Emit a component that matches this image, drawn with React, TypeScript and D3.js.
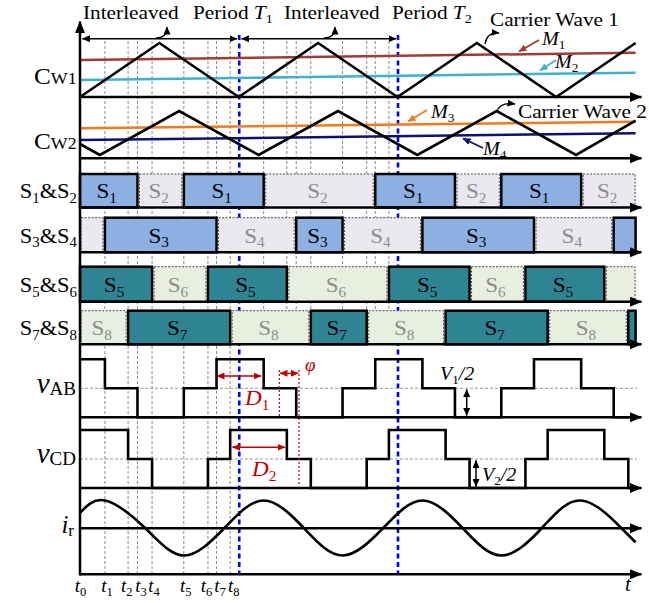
import React from "react";
import * as d3 from "d3";

// ---------------- data ----------------
const tMarks = [0, 15.7, 30.3, 36.2, 45.4, 65.4, 80.6, 86.0, 94.6]; // t0..t8 (period = 100)
const tNames = ["0", "1", "2", "3", "4", "5", "6", "7", "8"];
const periodEnds = [100, 200]; // T1, T2
const periodNames = ["1", "2"];
const secondPeriodMarks = [115.7, 130.3, 136.2, 145.4, 165.4, 180.6, 186.0, 194.6];

const carrier1: [number, number][] = [[0, 0], [50, 1], [100, 0], [150, 1], [200, 0], [250, 1], [300, 0], [350, 1]];
const carrier2: [number, number][] = [[0, 0.25], [12.5, 0], [62.5, 1], [112.5, 0], [162.5, 1], [212.5, 0], [262.5, 1], [312.5, 0], [350, 0.78]];
const m1: [number, number][] = [[0, 0.685], [350, 0.82]];
const m2: [number, number][] = [[0, 0.315], [350, 0.45]];
const m3: [number, number][] = [[0, 0.607], [350, 0.757]];
const m4: [number, number][] = [[0, 0.34], [350, 0.493]];

const s1On: [number, number][] = [[0, 36.2], [65.4, 115.7], [186.0, 236.2], [265.4, 315.7]];
const s3On: [number, number][] = [[15.7, 86.0], [136.2, 165.4], [215.7, 286.0], [336.2, 350]];
const s5On: [number, number][] = [[0, 45.4], [80.6, 130.3], [194.6, 245.4], [280.6, 330.3]];
const s7On: [number, number][] = [[30.3, 94.6], [145.4, 180.6], [230.3, 294.6], [345.4, 350]];

const vAB: [number, number][] = [[0, 2], [15.7, 1], [36.2, 0], [65.4, 1], [86.0, 2], [115.7, 1], [136.2, 0], [165.4, 1], [186.0, 2], [215.7, 1], [236.2, 0], [265.4, 1], [286.0, 2], [315.7, 1], [336.2, 0], [350, 0]];
const vCD: [number, number][] = [[0, 2], [30.3, 1], [45.4, 0], [80.6, 1], [94.6, 2], [130.3, 1], [145.4, 0], [180.6, 1], [194.6, 2], [230.3, 1], [245.4, 0], [280.6, 1], [294.6, 2], [330.3, 1], [345.4, 0], [350, 0]];
const iR: [number, number][] = [[0, 0.55], [15.7, 1], [41, 0], [65.4, -1], [91, 0], [115.7, 1], [141, 0], [165.4, -1], [191, 0], [215.7, 1], [241, 0], [265.4, -1], [291, 0], [315.7, 1], [341, 0], [350, -0.52]];

// ---------------- layout ----------------
const W = 649, H = 603;
const X0 = 80, XEND = 641.5;
const FONT = "'Liberation Serif', 'Times New Roman', serif";
const x = d3.scaleLinear().domain([0, 350]).range([80, 635.6]);
const yC1 = d3.scaleLinear().domain([0, 1]).range([97, 43]);
const yC2 = d3.scaleLinear().domain([0, 1]).range([155, 111]);
const yAB = d3.scaleLinear().domain([0, 2]).range([417.3, 359.3]);
const yCD = d3.scaleLinear().domain([0, 2]).range([488, 430]);
const yIR = d3.scaleLinear().domain([-1, 1]).range([555.5, 500.5]);
const axisYs = [97, 158.3, 207.5, 252.3, 301.7, 344.3, 417.3, 488, 528.3, 574.3];
const tLabelShift = [0.5, 2, -1.3, 3.5, 2, 2, -1.5, 3.5, 3.5];

const rowBands = [
  { top: 174, bottom: 207.5 },
  { top: 217.7, bottom: 252.3 },
  { top: 266.7, bottom: 301.7 },
  { top: 310.7, bottom: 344.3 },
];
const gateRows = [
  { on: s1On, onSub: "1", offSub: "2", onFill: "#8db0e2", offFill: "#ebe8f0" },
  { on: s3On, onSub: "3", offSub: "4", onFill: "#8db0e2", offFill: "#ebe8f0" },
  { on: s5On, onSub: "5", offSub: "6", onFill: "#2f8494", offFill: "#e9efdf" },
  { on: s7On, onSub: "7", offSub: "8", onFill: "#2f8494", offFill: "#e9efdf" },
];

type Part = { t: string; sub?: boolean; it?: boolean; size?: number; dy?: number };
function Rich({ x: px, y: py, parts, size, anchor = "start", sx = 1.12, fill = "#000" }:
  { x: number; y: number; parts: Part[]; size: number; anchor?: string; sx?: number; fill?: string }) {
  let cur = 0;
  return (
    <g transform={`translate(${px},${py}) scale(${sx},1)`}>
      <text textAnchor={anchor as any} fontFamily={FONT} fontSize={size} fill={fill}>
        {parts.map((p, i) => {
          const target = p.dy !== undefined ? p.dy : p.sub ? size * 0.22 : 0;
          const d = target - cur;
          cur = target;
          const fs = p.size ?? (p.sub ? size * 0.66 : size);
          return (
            <tspan key={i} dy={d} fontSize={fs} fontStyle={p.it ? "italic" : "normal"}>{p.t}</tspan>
          );
        })}
      </text>
    </g>
  );
}

function Arrow({ x1, y1, x2, y2, color = "#000", w = 1.5, both = false, head = "hs" }:
  { x1: number; y1: number; x2: number; y2: number; color?: string; w?: number; both?: boolean; head?: string }) {
  return <line x1={x1} y1={y1} x2={x2} y2={y2} stroke={color} strokeWidth={w}
    markerEnd={`url(#${head})`} markerStart={both ? `url(#${head})` : undefined} />;
}

export default function App() {
  const c1Path = d3.line<[number, number]>().x(d => x(d[0])).y(d => yC1(d[1]))(carrier1)!;
  const c2Path = d3.line<[number, number]>().x(d => x(d[0])).y(d => yC2(d[1]))(carrier2)!;
  const mLine1 = (d: [number, number][]) => d3.line<[number, number]>().x(p => x(p[0])).y(p => yC1(p[1]))(d)!;
  const mLine2 = (d: [number, number][]) => d3.line<[number, number]>().x(p => x(p[0])).y(p => yC2(p[1]))(d)!;
  const abPath = d3.line<[number, number]>().curve(d3.curveStepAfter).x(d => x(d[0])).y(d => yAB(d[1]))(vAB)!;
  const cdPath = d3.line<[number, number]>().curve(d3.curveStepAfter).x(d => x(d[0])).y(d => yCD(d[1]))(vCD)!;
  const irPath = d3.line<[number, number]>().curve(d3.curveNatural).x(d => x(d[0])).y(d => yIR(d[1]))(iR)!;

  const markers = [
    { id: "ax", c: "#000", l: 12, h: 10 },
    { id: "hs", c: "#000", l: 8, h: 7 },
    { id: "red", c: "#c00000", l: 8, h: 7 },
    { id: "brown", c: "#a03c36", l: 8, h: 7 },
    { id: "cyan", c: "#3fb1cf", l: 8, h: 7 },
    { id: "orange", c: "#ee7d1f", l: 8, h: 7 },
    { id: "navy", c: "#101070", l: 8, h: 7 },
  ];

  return (
    <svg width={W} height={H} style={{ position: "absolute", left: 0, top: 0, background: "#fff" }}>
      <defs>
        {markers.map(m => (
          <marker key={m.id} id={m.id} viewBox={`0 0 ${m.l} ${m.h}`} refX={m.l - 0.5} refY={m.h / 2}
            markerWidth={m.l} markerHeight={m.h} markerUnits="userSpaceOnUse" orient="auto-start-reverse">
            <path d={`M0,0 L${m.l},${m.h / 2} L0,${m.h} z`} fill={m.c} />
          </marker>
        ))}
      </defs>
      <rect x={0} y={0} width={W} height={H} fill="#fff" />

      {/* grey dashed time marks */}
      {tMarks.slice(1).map((t, i) => (
        <line key={"tm" + i} x1={x(t)} x2={x(t)} y1={41} y2={574} stroke="#8a8a8a" strokeWidth={1} strokeDasharray="3,2" />
      ))}
      {secondPeriodMarks.map((t, i) => (
        <line key={"tm2" + i} x1={x(t)} x2={x(t)} y1={41} y2={344} stroke="#8a8a8a" strokeWidth={1} strokeDasharray="3,2" />
      ))}
      {/* blue period lines */}
      {periodEnds.map((t, i) => (
        <line key={"pb" + i} x1={x(t) + 0.5} x2={x(t) + 0.5} y1={35} y2={575} stroke="#0000ff" strokeWidth={2.6} strokeDasharray="5,3.5" />
      ))}

      {/* gate blocks */}
      {gateRows.map((row, ri) => {
        const band = rowBands[ri];
        const cy = (band.top + band.bottom) / 2;
        const off: [number, number][] = [];
        let prev = 0;
        row.on.forEach(([a, b]) => { if (a > prev) off.push([prev, a]); prev = b; });
        if (prev < 350) off.push([prev, 350]);
        return (
          <g key={"row" + ri}>
            {off.map(([a, b], i) => {
              const xa = x(a) + (a > 0 ? 2 : 1.2);
              const xb = x(b) - (b < 350 ? 2 : 0.5);
              return (
                <g key={"off" + i}>
                  <rect x={xa} y={band.top} width={xb - xa} height={band.bottom - band.top}
                    fill={row.offFill} stroke="#4a4a4a" strokeWidth={1} strokeDasharray="2,1.5" />
                  {xb - xa > 35 && (
                    <Rich x={(xa + xb) / 2 - 2} y={cy + 7.5} anchor="middle" size={22} fill="#8c8c8c"
                      parts={[{ t: "S" }, { t: row.offSub, sub: true }]} sx={1.05} />
                  )}
                </g>
              );
            })}
            {row.on.map(([a, b], i) => {
              const xa = x(a);
              const xb = x(b);
              return (
                <g key={"on" + i}>
                  <rect x={xa} y={band.top} width={xb - xa} height={band.bottom - band.top}
                    fill={row.onFill} stroke="#000" strokeWidth={2.5} />
                  {xb - xa > 35 && (
                    <Rich x={(xa + xb) / 2 - 2} y={cy + 7.5} anchor="middle" size={22}
                      parts={[{ t: "S" }, { t: row.onSub, sub: true }]} sx={1.05} />
                  )}
                </g>
              );
            })}
          </g>
        );
      })}

      {/* modulation lines and carriers */}
      <path d={mLine1(m1)} stroke="#a03c36" strokeWidth={2.5} fill="none" />
      <path d={mLine1(m2)} stroke="#3fb1cf" strokeWidth={2.5} fill="none" />
      <path d={mLine2(m3)} stroke="#ee7d1f" strokeWidth={2.5} fill="none" />
      <path d={mLine2(m4)} stroke="#101070" strokeWidth={2.5} fill="none" />
      <path d={c1Path} stroke="#000" strokeWidth={2.6} fill="none" />
      <path d={c2Path} stroke="#000" strokeWidth={2.6} fill="none" />

      {/* dashed mid levels */}
      <line x1={X0} x2={637} y1={yAB(1)} y2={yAB(1)} stroke="#9a9a9a" strokeWidth={1} strokeDasharray="3,2" />
      <line x1={X0} x2={637} y1={yCD(1)} y2={yCD(1)} stroke="#9a9a9a" strokeWidth={1} strokeDasharray="3,2" />

      {/* axes */}
      {axisYs.map((yy, i) => (
        <line key={"ax" + i} x1={X0} x2={XEND} y1={yy} y2={yy} stroke="#000" strokeWidth={2.5} markerEnd="url(#ax)" />
      ))}
      <line x1={X0} x2={X0} y1={575.5} y2={21.5} stroke="#000" strokeWidth={2.5} markerEnd="url(#ax)" />

      {/* waveforms */}
      <path d={abPath} stroke="#000" strokeWidth={2.6} fill="none" />
      <path d={cdPath} stroke="#000" strokeWidth={2.6} fill="none" />
      <path d={irPath} stroke="#000" strokeWidth={2.6} fill="none" />

      {/* interleaved period arrows */}
      <Arrow x1={160} y1={38.7} x2={82.5} y2={38.7} />
      <Arrow x1={160} y1={38.7} x2={237} y2={38.7} />
      <Arrow x1={320} y1={38.7} x2={241.5} y2={38.7} />
      <Arrow x1={320} y1={38.7} x2={396} y2={38.7} />
      <path d="M156,38 Q167,38 167,27" stroke="#000" strokeWidth={1.4} fill="none" markerEnd="url(#hs)" />
      <path d="M324,38 Q335,38 335,27" stroke="#000" strokeWidth={1.4} fill="none" markerEnd="url(#hs)" />
      <path d="M485,44 Q487,32 499,33" stroke="#000" strokeWidth={1.4} fill="none" markerEnd="url(#hs)" />
      <path d="M497,112 Q499,102 515,104" stroke="#000" strokeWidth={1.4} fill="none" markerEnd="url(#hs)" />

      <Rich x={83} y={19} size={19} parts={[{ t: "Interleaved" }]} />
      <Rich x={193} y={19} size={19} parts={[{ t: "Period " }, { t: "T", it: true }, { t: periodNames[0], sub: true }]} />
      <Rich x={284} y={19} size={19} parts={[{ t: "Interleaved" }]} />
      <Rich x={392} y={19} size={19} parts={[{ t: "Period " }, { t: "T", it: true }, { t: periodNames[1], sub: true }]} />
      <Rich x={490} y={26} size={19} parts={[{ t: "Carrier Wave 1" }]} />
      <Rich x={518} y={118} size={19} parts={[{ t: "Carrier Wave 2" }]} />

      {/* modulation arrows */}
      <Arrow x1={539} y1={40} x2={519} y2={51.5} color="#a03c36" w={1.8} head="brown" />
      <Arrow x1={556} y1={60} x2={540} y2={70.5} color="#3fb1cf" w={1.8} head="cyan" />
      <Arrow x1={427} y1={110} x2={408} y2={121.5} color="#ee7d1f" w={1.8} head="orange" />
      <Arrow x1={483} y1={148} x2={463} y2={138.5} color="#101070" w={1.8} head="navy" />
      <Rich x={542} y={45} size={18} parts={[{ t: "M", it: true }, { t: "1", sub: true }]} />
      <Rich x={555} y={68} size={18} parts={[{ t: "M", it: true }, { t: "2", sub: true }]} />
      <Rich x={431} y={118} size={18} parts={[{ t: "M", it: true }, { t: "3", sub: true }]} />
      <Rich x={483} y={155} size={18} parts={[{ t: "M", it: true }, { t: "4", sub: true }]} />

      {/* row labels */}
      <Rich x={34} y={83.5} size={24} parts={[{ t: "C" }, { t: "W1", size: 17 }]} sx={1.05} />
      <Rich x={34} y={148.5} size={24} parts={[{ t: "C" }, { t: "W2", size: 17 }]} sx={1.05} />
      {gateRows.map((row, ri) => {
        const band = rowBands[ri];
        return (
          <Rich key={"rl" + ri} x={77} y={(band.top + band.bottom) / 2 + 7.5} size={22} anchor="end" sx={1.02}
            parts={[{ t: "S" }, { t: row.onSub, sub: true }, { t: "&" }, { t: "S" }, { t: row.offSub, sub: true }]} />
        );
      })}
      <Rich x={76} y={393} size={19} anchor="end" sx={1.0}
        parts={[{ t: "v", it: true, size: 29, dy: 0 }, { t: "AB", dy: 2 }]} />
      <Rich x={76} y={463} size={19} anchor="end" sx={1.0}
        parts={[{ t: "v", it: true, size: 29, dy: 0 }, { t: "CD", dy: 2 }]} />
      <Rich x={74} y={533} size={25} anchor="end" sx={1.0}
        parts={[{ t: "i", it: true, dy: 0 }, { t: "r", size: 17, dy: 3 }]} />

      {/* time labels */}
      {tMarks.map((t, i) => (
        <Rich key={"tl" + i} x={x(t) + tLabelShift[i]} y={592} size={19} anchor="middle" sx={1.0}
          parts={[{ t: "t", it: true }, { t: tNames[i], sub: true }]} />
      ))}
      <Rich x={625} y={591} size={21} parts={[{ t: "t", it: true }]} sx={1.0} />

      {/* red annotations */}
      <Arrow x1={217} y1={376} x2={261} y2={376} color="#c00000" both head="red" />
      <Arrow x1={232.5} y1={447.3} x2={285} y2={447.3} color="#c00000" both head="red" />
      <line x1={279.3} x2={279.3} y1={370} y2={416} stroke="#c00000" strokeWidth={1.2} strokeDasharray="2,2" />
      <line x1={299} x2={299} y1={370} y2={486} stroke="#c00000" strokeWidth={1.2} strokeDasharray="2,2" />
      <Arrow x1={280} y1={373.3} x2={298.3} y2={373.3} color="#c00000" both head="red" w={1.2} />
      <Rich x={245} y={405} size={22} fill="#c00000" sx={1.05} parts={[{ t: "D", it: true }, { t: "1", sub: true }]} />
      <Rich x={252} y={476} size={22} fill="#c00000" sx={1.05} parts={[{ t: "D", it: true }, { t: "2", sub: true }]} />
      <Rich x={305} y={371} size={18} fill="#c00000" sx={1.05} parts={[{ t: "φ", it: true }]} />

      {/* voltage level annotations */}
      <Arrow x1={466.7} y1={415.5} x2={466.7} y2={389.5} both head="hs" />
      <Arrow x1={476} y1={486.5} x2={476} y2={460.5} both head="hs" />
      <Rich x={440} y={380} size={19} sx={1.05} parts={[{ t: "V", it: true }, { t: "1", sub: true }, { t: "/2", it: true }]} />
      <Rich x={482} y={481} size={19} sx={1.05} parts={[{ t: "V", it: true }, { t: "2", sub: true }, { t: "/2", it: true }]} />
    </svg>
  );
}
